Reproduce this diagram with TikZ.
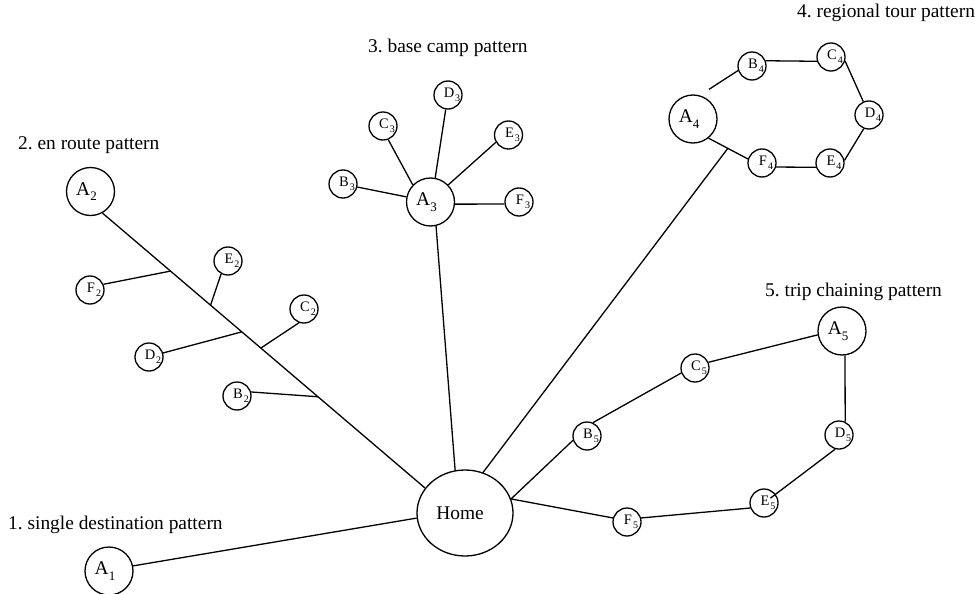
\documentclass[tikz,border=0pt]{standalone}
\usepackage{fontspec}
\setmainfont{Liberation Serif}
\usetikzlibrary{shapes.geometric,calc}
\frenchspacing
\newcommand\bigsb[1]{\raisebox{-0.28em}{\fontsize{13}{13}\selectfont #1}}
\newcommand\smsb[1]{\raisebox{-0.3em}{\fontsize{10}{10}\selectfont #1}}
\newcommand\biglab[2]{\makebox[0pt][c]{#1\bigsb{#2}\hspace*{8pt}}}
\newcommand\smlab[2]{\makebox[0pt][c]{\hspace*{8pt}#1\hspace{1pt}\smsb{#2}}}
\begin{document}
\begin{tikzpicture}[x=1pt,y=-1pt,
  big/.style={circle,draw,line width=1.3pt,minimum size=48pt,inner sep=0pt,font=\fontsize{19.4}{22}\selectfont},
  small/.style={circle,draw,line width=1.3pt,minimum size=28pt,inner sep=0pt,font=\fontsize{14.5}{16}\selectfont},
  homenode/.style={ellipse,draw,line width=1.3pt,minimum width=96pt,minimum height=86pt,inner sep=0pt,font=\fontsize{19.4}{22}\selectfont},
  title/.style={anchor=base west,inner sep=0pt,font=\fontsize{19.4}{22}\selectfont},
  link/.style={line width=1.3pt}]
\useasboundingbox (0,0) rectangle (975,594);
% titles
\node[title] (t1) at (8,529) {1. single destination pattern};
\node[title] (t2) at (18,149) {2. en route pattern};
\node[title] (t3) at (368,53) {3. base camp pattern};
\node[title] (t4) at (797,18) {4. regional tour pattern};
\node[title] (t5) at (765,296) {5. trip chaining pattern};
% home
\node[homenode] (home) at (465,513) {\makebox[0pt][c]{Home\hspace*{10pt}}};
% 1
\node[big] (a1) at (109,571) {\biglab{A}{1}};
% 2
\node[big] (a2) at (90.5,191.5) {\biglab{A}{2}};
\node[small] (e2) at (228,261) {\smlab{E}{2}};
\node[small] (f2) at (90,290) {\smlab{F}{2}};
\node[small] (c2) at (304,309) {\smlab{C}{2}};
\node[small] (d2) at (149,357) {\smlab{D}{2}};
\node[small] (b2) at (237,396) {\smlab{B}{2}};
% 3
\node[big] (a3) at (430.5,202) {\biglab{A}{3}};
\node[small] (d3) at (448,95) {\smlab{D}{3}};
\node[small] (c3) at (383,126) {\smlab{C}{3}};
\node[small] (e3) at (508.5,135) {\smlab{E}{3}};
\node[small] (b3) at (343,184) {\smlab{B}{3}};
\node[small] (f3) at (519,202) {\smlab{F}{3}};
% 4
\node[big] (a4) at (693,119) {\biglab{A}{4}};
\node[small] (b4) at (752,66) {\smlab{B}{4}};
\node[small] (c4) at (831,57) {\smlab{C}{4}};
\node[small] (d4) at (869,115) {\smlab{D}{4}};
\node[small] (e4) at (830,163) {\smlab{E}{4}};
\node[small] (f4) at (762,163) {\smlab{F}{4}};
% 5
\node[big] (a5) at (842,331) {\biglab{A}{5}};
\node[small] (c5) at (695,368) {\smlab{C}{5}};
\node[small] (b5) at (587,436) {\smlab{B}{5}};
\node[small] (d5) at (839,435) {\smlab{D}{5}};
\node[small] (e5) at (764,503) {\smlab{E}{5}};
\node[small] (f5) at (627,522) {\smlab{F}{5}};
% junction points
\coordinate (jf2) at ($(a2.-61)!0.211!(home.148)$);
\coordinate (je2) at ($(a2.-61)!0.335!(home.148)$);
\coordinate (jd2) at ($(a2.-61)!0.432!(home.148)$);
\coordinate (jc2) at ($(a2.-61)!0.491!(home.148)$);
\coordinate (jb2) at ($(a2.-61)!0.668!(home.148)$);
\coordinate (j4) at ($(a4.-51)!0.49!(f4.164)$);
% connectors
\draw[link] (a1.12) -- (home.186);
\draw[link] (a2.-61) -- (home.148);
\draw[link] (f2.23) -- (jf2);
\draw[link] (e2.-118) -- (je2);
\draw[link] (d2.16) -- (jd2);
\draw[link] (c2.-110) -- (jc2);
\draw[link] (b2.16) -- (jb2);
\draw[link] (b3.-12) -- (a3.168);
\draw[link] (c3.-69) -- (a3.136);
\draw[link] (d3.-99) -- (a3.79);
\draw[link] (e3.-150) -- (a3.44);
\draw[link] (a3.-5) -- (f3.188);
\draw[link] (a3.-77) -- (home.103);
\draw[link,shorten <=11pt] (a4.74) -- (b4.198);
\draw[link] (b4.21) -- (c4.197);
\draw[link] (c4.-16) -- (d4.113);
\draw[link] (d4.-111) -- (e4.10);
\draw[link] (e4.197) -- (f4.-16);
\draw[link] (f4.164) -- (a4.-51);
\draw[link] (home.66) -- (j4);
\draw[link] (home.17) -- (b5.197);
\draw[link] (b5.66) -- (c5.200);
\draw[link] (c5.23) -- (a5.189);
\draw[link] (a5.-83) -- (d5.65);
\draw[link,shorten >=8pt] (d5.-105) -- (e5.center);
\draw[link] (e5.200) -- (f5.16);
\draw[link] (f5.164) -- (home.17);
\end{tikzpicture}
\end{document}
